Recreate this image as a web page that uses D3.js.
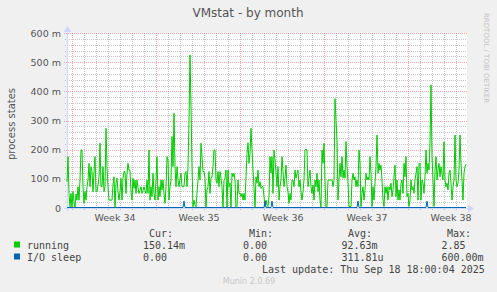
<!DOCTYPE html>
<html><head><meta charset="utf-8">
<script src="https://cdn.jsdelivr.net/npm/d3@7"></script>
<style>html,body{margin:0;padding:0;background:#F0F0F0;}svg{display:block;}</style>
</head><body>
<script>
// ---- data (values in milli-units, one point per 2 hours) ----
const title = "VMstat - by month";
const yAxisLabel = "process states";
const yTicks = [0, 100, 200, 300, 400, 500, 600];
const yTickLabels = ["0", "100 m", "200 m", "300 m", "400 m", "500 m", "600 m"];
const weekLabels = ["Week 34", "Week 35", "Week 36", "Week 37", "Week 38"];
const seriesNames = ["running", "I/O sleep"];
const seriesColors = ["#00CC00", "#0066B3"];
const legendCur = ["150.14m", "  0.00 "];
const legendMin = ["  0.00 ", "  0.00 "];
const legendAvg = [" 92.63m", "311.81u"];
const legendMax = ["  2.85 ", "600.00m"];
const lastUpdate = "Last update: Thu Sep 18 18:00:04 2025";
const footer = "Munin 2.0.69";
const sideText = "RRDTOOL / TOBI OETIKER";

const running = [
90,176,50,4,50,0,56,22,0,48,27,73,27,96,199,199,73,16,56,27,
73,96,153,73,142,125,56,125,176,56,56,79,107,222,73,73,142,56,73,273,
142,73,27,27,27,27,79,107,0,85,102,56,27,56,102,27,102,125,125,50,
119,153,130,130,56,27,102,67,96,50,96,70,50,60,73,50,60,73,60,50,
96,50,199,27,73,39,119,50,27,96,176,27,73,39,96,62,96,50,16,73,
176,165,27,73,96,245,142,325,142,73,142,96,73,100,119,73,73,73,119,125,
73,142,300,525,350,142,4,27,10,4,50,96,142,96,222,176,125,125,102,0,
62,73,125,50,102,107,142,199,199,96,85,125,73,125,102,73,0,96,102,130,
0,130,73,85,0,119,107,119,96,0,5,96,50,50,39,50,27,50,27,107,
187,224,153,187,273,199,130,73,0,107,85,130,73,90,67,73,73,39,5,27,
10,5,39,176,120,176,50,199,165,119,73,142,27,73,96,176,125,73,102,147,
73,56,16,50,27,96,96,73,130,102,119,130,73,96,56,27,56,96,199,201,
199,73,102,130,73,50,79,27,96,73,119,56,96,27,0,199,153,222,96,0,
5,96,96,96,96,96,73,96,375,300,233,27,96,153,107,176,102,130,102,228,
142,85,5,5,5,96,119,96,107,73,96,73,199,153,5,50,73,27,62,119,
96,107,96,176,119,5,73,27,85,142,250,119,153,130,147,96,27,5,73,50,
73,27,73,62,85,39,62,107,147,39,96,27,62,27,85,96,50,153,107,176,
39,50,5,27,96,62,73,50,96,119,142,27,153,153,27,96,85,50,107,199,
119,153,130,222,422,176,96,5,130,176,96,130,153,107,142,119,96,227,96,73,
85,62,119,130,85,27,73,96,250,96,73,85,130,250,153,96,27,119,142,150
];
// I/O sleep: [point index, value]
const ioSleep = [
[0,0],[116,0],[117,22],[118,0],[197,0],[198,22],[199,0],[204,0],[205,22],[206,0],
[290,0],[291,22],[292,0],[359,0],[360,22],[361,0],[399,0]
];

// ---- layout ----
const W = 497, H = 292;
const L = 67, R = 467, T = 33, B = 208;
const HOUR = 3600 * 1000;
const start = Date.UTC(2025, 7, 17, 14);
const end = start + 800 * HOUR;
const tOf = i => new Date(start + i * 2 * HOUR);

const svg = d3.select("body").append("svg").attr("width", W).attr("height", H);
svg.append("rect").attr("width", W).attr("height", H).attr("fill", "#F0F0F0");

const x = d3.scaleUtc().domain([start, end]).range([L, R]);
const y = d3.scaleLinear().domain([0, 600]).range([B, T]);

svg.append("rect").attr("x", L).attr("y", T).attr("width", R - L).attr("height", B - T).attr("fill", "#FFFFFF");

const minorCol = "rgba(140,140,140,0.5)";
const majorCol = "rgba(245,110,110,0.6)";
const g = svg.append("g").attr("shape-rendering", "crispEdges");

// minor horizontal grid
const minorY = d3.range(0, 601, 20).filter(v => v % 100 !== 0);
g.selectAll(".hmin").data(minorY).enter().append("line")
  .attr("x1", L - 2).attr("x2", R).attr("y1", d => Math.round(y(d)) + 0.5).attr("y2", d => Math.round(y(d)) + 0.5)
  .attr("stroke", minorCol).attr("stroke-dasharray", "1,1");
// minor vertical grid (days)
const days = d3.utcDay.range(new Date(start), new Date(end)).filter(d => d.getUTCDay() !== 1);
g.selectAll(".vmin").data(days).enter().append("line")
  .attr("x1", d => Math.round(x(d)) + 0.5).attr("x2", d => Math.round(x(d)) + 0.5).attr("y1", T).attr("y2", B + 2)
  .attr("stroke", minorCol).attr("stroke-dasharray", "1,1");
// major horizontal
g.selectAll(".hmaj").data(yTicks.slice(1)).enter().append("line")
  .attr("x1", L - 3).attr("x2", R).attr("y1", d => Math.round(y(d)) + 0.5).attr("y2", d => Math.round(y(d)) + 0.5)
  .attr("stroke", majorCol).attr("stroke-dasharray", "1,1");
// major vertical (weeks)
const weeks = d3.utcMonday.range(new Date(start), new Date(end));
g.selectAll(".vmaj").data(weeks).enter().append("line")
  .attr("x1", d => Math.round(x(d)) + 0.5).attr("x2", d => Math.round(x(d)) + 0.5).attr("y1", T).attr("y2", B + 3)
  .attr("stroke", majorCol).attr("stroke-dasharray", "1,1");

// axes
const axisCol = "#CFD6F8";
g.append("line").attr("x1", L - 3).attr("x2", R + 2).attr("y1", B + 0.5).attr("y2", B + 0.5).attr("stroke", axisCol);
g.append("line").attr("x1", L + 0.5).attr("x2", L + 0.5).attr("y1", B + 3).attr("y2", T - 3).attr("stroke", axisCol);
svg.append("path").attr("d", `M${R + 1},${B - 3.5} L${R + 7},${B + 0.5} L${R + 1},${B + 4.5} Z`).attr("fill", axisCol);
svg.append("path").attr("d", `M${L - 3.5},${T - 1} L${L + 0.5},${T - 7} L${L + 4.5},${T - 1} Z`).attr("fill", axisCol);

const font = "'DejaVu Sans', sans-serif";
const mono = "'DejaVu Sans Mono', monospace";
const txtCol = "#555555";

// y tick labels
svg.selectAll(".ylab").data(yTicks).enter().append("text")
  .attr("x", 61).attr("y", d => y(d) + 3.5).attr("text-anchor", "end")
  .attr("font-family", font).attr("font-size", 9.5).attr("fill", txtCol)
  .text((d, i) => yTickLabels[i]);

// x week labels
svg.selectAll(".xlab").data(weeks).enter().append("text")
  .attr("x", d => x(new Date(+d + 84 * HOUR)) + 1).attr("y", 220.5).attr("text-anchor", "middle")
  .attr("font-family", font).attr("font-size", 9.5).attr("fill", txtCol)
  .text((d, i) => weekLabels[i]);

// series
const line = d3.line().x(d => x(d[0])).y(d => y(d[1]));
svg.append("path").datum(running.map((v, i) => [tOf(i), v]))
  .attr("d", line).attr("fill", "none").attr("stroke", seriesColors[0]).attr("stroke-width", 1);
svg.append("path").datum(ioSleep.map(d => [tOf(d[0]), d[1]]))
  .attr("d", d3.line().x(d => x(d[0])).y(d => y(d[1]) - 0.5)).attr("fill", "none").attr("stroke", seriesColors[1]).attr("stroke-width", 1);

// title, axis label, side text
svg.append("text").attr("x", 248).attr("y", 17).attr("text-anchor", "middle")
  .attr("font-family", font).attr("font-size", 12).attr("fill", txtCol).text(title);
svg.append("text").attr("transform", "translate(15,124) rotate(-90)").attr("text-anchor", "middle")
  .attr("font-family", font).attr("font-size", 10).attr("fill", txtCol).text(yAxisLabel);
svg.append("text").attr("transform", "translate(483.5,13) rotate(90)").attr("text-anchor", "start")
  .attr("font-family", font).attr("font-size", 7).attr("fill", "#C4C4C4").text(sideText);

// legend
const lg = svg.append("g").attr("font-family", mono).attr("font-size", 10).attr("fill", "#444444")
  .attr("xml:space", "preserve").style("white-space", "pre");
const headers = [["Cur:", 149], ["Min:", 249], ["Avg:", 348], ["Max:", 447]];
headers.forEach(h => lg.append("text").attr("x", h[1]).attr("y", 236.5).text(h[0]));
const cols = [[legendCur, 143], [legendMin, 243], [legendAvg, 341.5], [legendMax, 441.5]];
seriesNames.forEach((name, i) => {
  const yy = 248.5 + i * 12;
  svg.append("rect").attr("x", 14).attr("y", yy - 7).attr("width", 6).attr("height", 6).attr("fill", seriesColors[i]);
  lg.append("text").attr("x", 27).attr("y", yy).text(name);
  cols.forEach(c => lg.append("text").attr("x", c[1]).attr("y", yy).text(c[0][i]));
});
lg.append("text").attr("x", 262).attr("y", 272.5).text(lastUpdate);
svg.append("text").attr("x", 249).attr("y", 284).attr("text-anchor", "middle")
  .attr("font-family", font).attr("font-size", 8).attr("fill", "#C8C8C8").text(footer);
</script>
</body></html>
